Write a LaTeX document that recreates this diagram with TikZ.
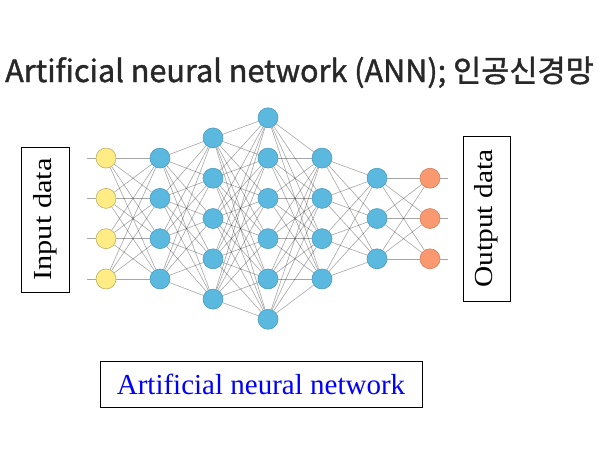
\documentclass[tikz,border=0pt]{standalone}
\usepackage{fontspec}
\setmainfont{Liberation Serif}
\newfontfamily\krfont[FakeBold=1.3]{Noto Sans CJK KR}
\usetikzlibrary{positioning, backgrounds}

\definecolor{unitblue}{RGB}{91,184,222}
\definecolor{unityellow}{RGB}{255,236,133}
\definecolor{unitorange}{RGB}{250,152,112}
\definecolor{titlegray}{RGB}{40,40,40}

\tikzset{
	neuron/.style={shape=circle, minimum size=20pt, inner sep=0pt, line width=0.6pt},
	inunit/.style={neuron, fill=unityellow, draw=unityellow!75!black},
	hidunit/.style={neuron, fill=unitblue, draw=unitblue!85!black},
	outunit/.style={neuron, fill=unitorange, draw=unitorange!85!black},
	synapse/.style={draw=black, line width=0.6pt, opacity=0.35},
	labelbox/.style={draw=black, line width=0.8pt, inner sep=0pt},
}

\begin{document}
\begin{tikzpicture}[x=1pt, y=-1pt]
	\useasboundingbox (0,0) rectangle (596,448);

	\node[anchor=base west, inner sep=0pt, text=titlegray, font=\krfont\fontsize{30.6}{30.6}\selectfont] (title) at (5,82) {Artificial neural network (ANN); 인공신경망};

	% layers of units
	\foreach \x/\n/\kind [count=\l] in {106/4/inunit, 160/4/hidunit, 213/5/hidunit, 268/6/hidunit, 322/4/hidunit, 377/3/hidunit, 430/3/outunit}
		\foreach \k in {1,...,\n}
			\node[\kind] (n\l-\k) at (\x, {218.5+(\k-(\n+1)/2)*40.3}) {};

	% connections between neighbouring layers
	\begin{scope}[on background layer]
		\foreach \a/\na/\nb in {1/4/4, 2/4/5, 3/5/6, 4/6/4, 5/4/3, 6/3/3} {
			\pgfmathtruncatemacro\b{\a+1}
			\foreach \i in {1,...,\na}
				\foreach \j in {1,...,\nb}
					\draw[synapse] (n\a-\i) -- (n\b-\j);
		}
		\foreach \k in {1,...,4} {
			\coordinate (in\k) at (87, {218.5+(\k-2.5)*40.3});
			\draw[synapse] (in\k) -- (n1-\k);
		}
		\foreach \k in {1,...,3} {
			\coordinate (out\k) at (448, {218.5+(\k-2)*40.3});
			\draw[synapse] (n7-\k) -- (out\k);
		}
	\end{scope}

	\node[labelbox, rotate=90, minimum width=145pt, minimum height=48pt, font=\fontsize{26}{26}\selectfont] (indata) at (45,219.5) {\scalebox{1.17}[1]{Input data}};
	\node[labelbox, rotate=90, minimum width=165pt, minimum height=47pt, font=\fontsize{26}{26}\selectfont] (outdata) at (486.5,218.5) {\scalebox{1.13}[1]{Output data}};
	\node[labelbox, minimum width=322pt, minimum height=46pt, text=blue, font=\fontsize{29}{29}\selectfont] (annbox) at (261,384) {Artificial neural network};
\end{tikzpicture}
\end{document}
